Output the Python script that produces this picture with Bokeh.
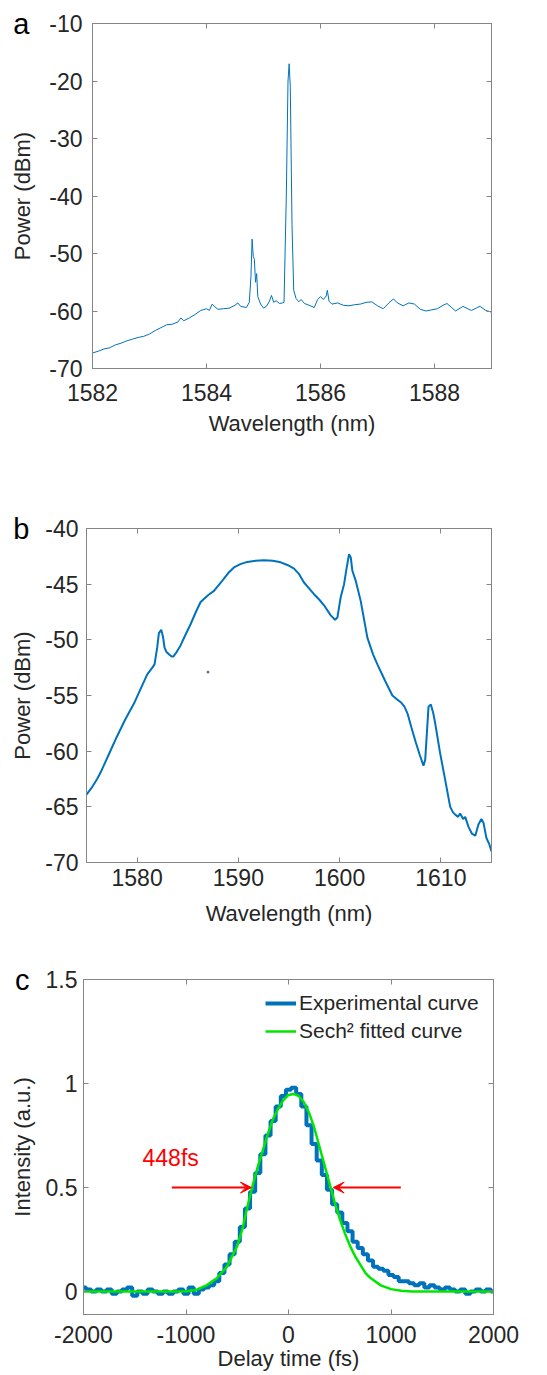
from bokeh.plotting import figure
from bokeh.models import Range1d, LinearAxis, FixedTicker, Label, Arrow, VeeHead
from bokeh.embed import file_html
from bokeh.resources import INLINE

# ---------------- panel a data ----------------
a_wavelength = [1582.00, 1582.10, 1582.20, 1582.30, 1582.40, 1582.50, 1582.60, 1582.70, 1582.80, 1582.90,
                1583.00, 1583.10, 1583.20, 1583.30, 1583.40, 1583.50, 1583.55, 1583.60, 1583.70, 1583.80,
                1583.90, 1584.00, 1584.05, 1584.10, 1584.15, 1584.20, 1584.30, 1584.40, 1584.50, 1584.55,
                1584.60, 1584.70, 1584.75, 1584.78, 1584.80, 1584.82, 1584.84, 1584.86, 1584.88, 1584.90,
                1584.95, 1585.00, 1585.05, 1585.10, 1585.14, 1585.18, 1585.22, 1585.28, 1585.33, 1585.36,
                1585.40, 1585.43, 1585.45, 1585.47, 1585.50, 1585.53, 1585.57, 1585.62, 1585.66, 1585.72,
                1585.80, 1585.89, 1585.95, 1586.00, 1586.05, 1586.10, 1586.12, 1586.15, 1586.20, 1586.30,
                1586.40, 1586.50, 1586.60, 1586.70, 1586.80, 1586.90, 1587.00, 1587.10, 1587.20, 1587.28,
                1587.35, 1587.45, 1587.55, 1587.65, 1587.75, 1587.85, 1587.95, 1588.05, 1588.15, 1588.22,
                1588.30, 1588.37, 1588.45, 1588.50, 1588.60, 1588.65, 1588.75, 1588.80, 1588.90, 1589.00]
a_power = [-67.3, -67.0, -66.6, -66.4, -65.9, -65.6, -65.2, -64.9, -64.6, -64.4,
           -64.0, -63.4, -62.9, -62.4, -62.3, -61.9, -61.2, -61.7, -61.2, -60.6,
           -59.9, -59.6, -59.9, -58.8, -59.3, -59.7, -59.6, -59.5, -59.0, -58.6,
           -59.2, -59.4, -58.5, -54.0, -47.5, -50.5, -51.0, -55.0, -53.5, -57.5,
           -58.8, -59.5, -59.2, -58.4, -57.3, -58.5, -58.2, -58.7, -58.6, -58.5,
           -40.0, -20.0, -17.0, -21.0, -45.0, -56.4, -57.8, -58.4, -58.0, -58.7,
           -59.0, -59.4, -58.0, -57.5, -58.0, -57.4, -56.4, -58.3, -58.8, -58.6,
           -59.0, -59.1, -58.9, -58.8, -58.5, -58.4, -59.1, -59.6, -58.6, -57.9,
           -58.6, -59.1, -58.6, -58.8, -59.7, -60.0, -59.8, -59.6, -59.0, -58.7,
           -59.4, -60.0, -59.5, -59.2, -59.7, -59.9, -59.4, -59.2, -59.9, -60.2]
a_xticks = [1582, 1584, 1586, 1588]
a_xtick_labels = ["1582", "1584", "1586", "1588"]
a_yticks = [-70, -60, -50, -40, -30, -20, -10]
a_ytick_labels = ["-70", "-60", "-50", "-40", "-30", "-20", "-10"]
a_letter = "a"

# ---------------- panel b data ----------------
b_wavelength = [1575.0, 1575.5, 1576.05, 1576.4, 1576.7, 1577.3, 1578.0, 1578.8, 1579.7, 1580.4,
                1581.0, 1581.5, 1581.72, 1581.98, 1582.15, 1582.38, 1582.55, 1582.71, 1582.9, 1583.14,
                1583.4, 1583.57, 1583.9, 1584.29, 1584.8, 1585.28, 1585.8, 1586.27, 1587.0, 1587.59,
                1588.4, 1589.0, 1589.56, 1590.2, 1590.88, 1591.7, 1592.53, 1593.4, 1594.18, 1594.9,
                1595.5, 1596.0, 1596.48, 1597.0, 1597.47, 1598.0, 1598.46, 1599.12, 1599.55, 1599.78,
                1600.1, 1600.27, 1600.44, 1600.7, 1600.93, 1601.1, 1601.26, 1601.59, 1602.08, 1602.74,
                1603.3, 1603.73, 1604.5, 1605.21, 1605.6, 1606.04, 1606.4, 1606.7, 1607.1, 1607.52,
                1607.9, 1608.28, 1608.45, 1608.78, 1609.01, 1609.25, 1609.44, 1609.93, 1610.43, 1610.92,
                1611.2, 1611.42, 1611.7, 1611.9, 1612.2, 1612.4, 1612.73, 1613.06, 1613.4, 1613.7,
                1614.0, 1614.2, 1614.5, 1614.8, 1615.0]
b_power = [-63.9, -63.3, -62.5, -61.9, -61.3, -60.1, -58.7, -57.2, -55.7, -54.3,
           -53.1, -52.5, -52.2, -50.7, -49.4, -49.1, -49.7, -50.7, -51.1, -51.3,
           -51.5, -51.5, -51.1, -50.5, -49.5, -48.6, -47.5, -46.6, -46.0, -45.6,
           -44.7, -44.0, -43.5, -43.2, -43.0, -42.9, -42.85, -42.9, -43.04, -43.3,
           -43.6, -44.1, -44.85, -45.4, -45.9, -46.4, -46.9, -47.8, -48.2, -48.0,
           -46.2, -45.6, -45.0, -43.5, -42.3, -42.6, -43.8, -44.7, -46.5, -49.8,
           -51.3, -52.2, -53.7, -55.0, -55.3, -55.6, -56.0, -56.6, -57.9, -59.2,
           -60.3, -61.3, -60.8, -56.0, -55.8, -56.6, -57.5, -60.2, -62.6, -65.0,
           -65.5, -65.7, -65.9, -65.6, -66.1, -65.9, -66.8, -67.4, -67.6, -66.6,
           -66.1, -66.4, -67.8, -68.4, -69.0]
b_dot_wavelength = [1587.0]
b_dot_power = [-52.9]
b_xticks = [1580, 1590, 1600, 1610]
b_xtick_labels = ["1580", "1590", "1600", "1610"]
b_yticks = [-70, -65, -60, -55, -50, -45, -40]
b_ytick_labels = ["-70", "-65", "-60", "-55", "-50", "-45", "-40"]
b_letter = "b"

# ---------------- panel c data ----------------
c_exp_delay = [-2000, -1950, -1900, -1850, -1800, -1750, -1700, -1650, -1600, -1550,
               -1500, -1450, -1400, -1350, -1300, -1250, -1200, -1150, -1100, -1050,
               -1000, -950, -900, -850, -800, -750, -700, -650, -600, -550,
               -500, -450, -400, -350, -300, -250, -200, -150, -100, -50,
               0, 50, 100, 150, 200, 250, 300, 350, 400, 450,
               500, 550, 600, 650, 700, 750, 800, 850, 900, 950,
               1000, 1050, 1100, 1150, 1200, 1250, 1300, 1350, 1400, 1450,
               1500, 1550, 1600, 1650, 1700, 1750, 1800, 1850, 1900, 1950, 2000]
c_exp_intensity = [0.02, 0.01, 0.0, 0.01, 0.0, 0.01, -0.01, 0.0, 0.01, 0.02,
                   -0.02, 0.0, -0.01, 0.01, 0.0, -0.01, 0.0, -0.01, 0.0, 0.01,
                   -0.01, 0.02, -0.01, 0.01, 0.02, 0.03, 0.05, 0.09, 0.13, 0.18,
                   0.24, 0.31, 0.40, 0.48, 0.57, 0.66, 0.75, 0.82, 0.89, 0.94,
                   0.97, 0.98, 0.95, 0.89, 0.80, 0.71, 0.63, 0.56, 0.49, 0.42,
                   0.38, 0.33, 0.29, 0.24, 0.21, 0.18, 0.15, 0.12, 0.11, 0.10,
                   0.08, 0.07, 0.05, 0.05, 0.04, 0.03, 0.04, 0.02, 0.03, 0.02,
                   0.01, 0.02, 0.01, 0.0, 0.01, -0.01, 0.0, 0.01, 0.0, 0.01, 0.0]
c_fit_delay = [-2000, -1500, -1200, -1100, -1000, -900, -800, -700, -600, -500,
               -450, -400, -350, -300, -250, -200, -150, -100, -50, 0,
               50, 100, 150, 200, 250, 300, 350, 400, 450, 500,
               550, 600, 650, 700, 750, 800, 900, 1000, 1100, 1200,
               1300, 1500, 2000]
c_fit_intensity = [0, 0, 0, 0.001, 0.002, 0.008, 0.03, 0.064, 0.12, 0.22,
                   0.30, 0.41, 0.51, 0.60, 0.68, 0.76, 0.83, 0.88, 0.92, 0.945,
                   0.95, 0.94, 0.91, 0.86, 0.79, 0.70, 0.61, 0.52, 0.43, 0.35,
                   0.28, 0.22, 0.17, 0.13, 0.09, 0.065, 0.03, 0.012, 0.004, 0.001,
                   0, 0, 0]
c_xticks = [-2000, -1000, 0, 1000, 2000]
c_xtick_labels = ["-2000", "-1000", "0", "1000", "2000"]
c_yticks = [0, 0.5, 1, 1.5]
c_ytick_labels = ["0", "0.5", "1", "1.5"]
c_arrow_left_x = [-1138, -361]
c_arrow_right_x = [1096, 436]
c_arrow_y = 0.5
c_note_x = -1424
c_note_y = 0.64
c_note_text = "448fs"
c_letter = "c"

# ---------------- styling ----------------
FONT = "Liberation Sans"
FRAME = "#858585"
TXT = "#262626"
BLUE = "#0072BD"
W = 531


def make_fig(h, left, right, top, bottom, xr, yr):
    p = figure(width=W, height=h, output_backend="svg", toolbar_location=None,
               x_range=Range1d(*xr), y_range=Range1d(*yr),
               min_border_left=left, min_border_right=right,
               min_border_top=top, min_border_bottom=bottom)
    p.grid.visible = False
    p.outline_line_color = FRAME
    p.background_fill_color = "white"
    p.border_fill_color = "white"
    return p


def style_axis(ax, ticks, labels, label, std, lstd):
    ax.ticker = FixedTicker(ticks=ticks)
    ax.major_label_overrides = {t: s for t, s in zip(ticks, labels)}
    ax.axis_label = label
    ax.axis_line_color = FRAME
    ax.major_tick_line_color = FRAME
    ax.major_tick_in = 5
    ax.major_tick_out = 0
    ax.minor_tick_line_color = None
    ax.major_label_text_font = FONT
    ax.major_label_text_font_size = "23px"
    ax.major_label_text_color = TXT
    ax.major_label_standoff = std
    ax.axis_label_text_font = FONT
    ax.axis_label_text_font_size = "22px"
    ax.axis_label_text_font_style = "normal"
    ax.axis_label_text_color = TXT
    ax.axis_label_standoff = lstd


def mirror_axes(p, xticks, yticks):
    for side, ticks in (("right", yticks), ("above", xticks)):
        ax = LinearAxis(ticker=FixedTicker(ticks=ticks))
        ax.axis_line_color = FRAME
        ax.major_tick_line_color = FRAME
        ax.major_tick_in = 5
        ax.major_tick_out = 0
        ax.minor_tick_line_color = None
        ax.major_label_text_font_size = "0px"
        ax.major_label_text_color = None
        ax.major_label_standoff = 0
        p.add_layout(ax, side)


def panel_letter(p, letter, top_value, standoff):
    # the panel letter is drawn as the single tick label of an outer, invisible left axis
    ax = LinearAxis(ticker=FixedTicker(ticks=[top_value]))
    ax.major_label_overrides = {top_value: letter}
    ax.axis_line_color = None
    ax.major_tick_line_color = None
    ax.minor_tick_line_color = None
    ax.major_tick_in = 0
    ax.major_tick_out = 0
    ax.major_label_text_font = FONT
    ax.major_label_text_font_size = "29px"
    ax.major_label_text_color = "black"
    ax.major_label_standoff = standoff
    p.add_layout(ax, "left")


# ---- panel a ----
pa = make_fig(460, 92, 40, 23, 92, (1582, 1589), (-70, -10))
pa.line(a_wavelength, a_power, line_color=BLUE, line_width=1)
style_axis(pa.xaxis[0], a_xticks, a_xtick_labels, "Wavelength (nm)", 15, 7)
style_axis(pa.yaxis[0], a_yticks, a_ytick_labels, "Power (dBm)", 10, 11)
mirror_axes(pa, a_xticks, a_yticks)
panel_letter(pa, a_letter, a_yticks[-1], -22)

# ---- panel b ----
pb = make_fig(475, 86, 40, 68, 73, (1575, 1615), (-70, -40))
pb.line(b_wavelength, b_power, line_color=BLUE, line_width=2)
pb.scatter(b_dot_wavelength, b_dot_power, size=2, color="#6a5aa8")
style_axis(pb.xaxis[0], b_xticks, b_xtick_labels, "Wavelength (nm)", 6, 12)
style_axis(pb.yaxis[0], b_yticks, b_ytick_labels, "Power (dBm)", 8, 7)
mirror_axes(pb, b_xticks, b_yticks)
panel_letter(pb, b_letter, b_yticks[-1], -22)

# ---- panel c ----
pc = make_fig(438, 83, 38, 44, 57, (-2000, 2000), (-0.11, 1.5))
pc.step(c_exp_delay, c_exp_intensity, mode="center", line_color=BLUE, line_width=4,
        legend_label="Experimental curve")
pc.line(c_fit_delay, c_fit_intensity, line_color="#00e600", line_width=2.5,
        legend_label="Sech² fitted curve")
style_axis(pc.xaxis[0], c_xticks, c_xtick_labels, "Delay time (fs)", 11, 0)
style_axis(pc.yaxis[0], c_yticks, c_ytick_labels, "Intensity (a.u.)", 6, 8)
mirror_axes(pc, c_xticks, c_yticks)
panel_letter(pc, c_letter, c_yticks[-1], -23)

pc.add_layout(Arrow(x_start=c_arrow_left_x[0], y_start=c_arrow_y,
                    x_end=c_arrow_left_x[1], y_end=c_arrow_y,
                    line_color="red", line_width=2,
                    end=VeeHead(size=11, fill_color="red", line_color="red", line_width=1)))
pc.add_layout(Arrow(x_start=c_arrow_right_x[0], y_start=c_arrow_y,
                    x_end=c_arrow_right_x[1], y_end=c_arrow_y,
                    line_color="red", line_width=2,
                    end=VeeHead(size=11, fill_color="red", line_color="red", line_width=1)))
pc.add_layout(Label(x=c_note_x, y=c_note_y, text=c_note_text, text_color="red",
                    text_font=FONT, text_font_size="23px", text_baseline="alphabetic"))

lg = pc.legend[0]
lg.location = (182, 270)
lg.border_line_color = None
lg.background_fill_alpha = 0
lg.label_text_font = FONT
lg.label_text_font_size = "21px"
lg.label_text_color = TXT
lg.glyph_width = 31
lg.glyph_height = 26
lg.label_height = 26
lg.label_standoff = 3
lg.spacing = 2
lg.padding = 10
lg.margin = 0

open("out.html", "w").write(file_html([pa, pb, pc], INLINE))
